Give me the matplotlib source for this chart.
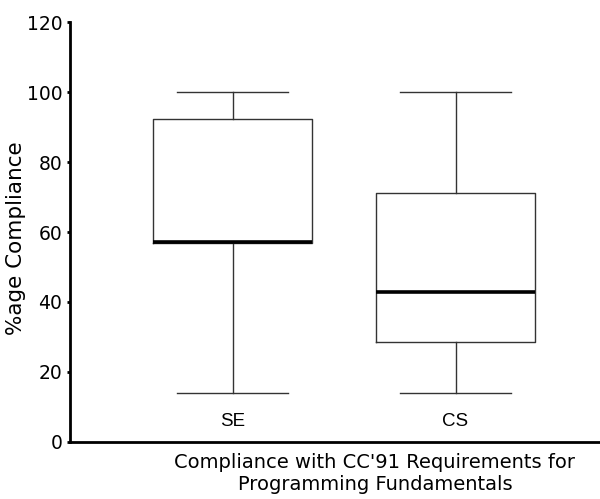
import matplotlib
matplotlib.use("Agg")
import matplotlib.pyplot as plt

categories = ["SE", "CS"]
whisker_low = [14, 14]
q1 = [57, 28.6]
median = [57.2, 42.8]
q3 = [92.4, 71.1]
whisker_high = [100, 100]

yticks = [0, 20, 40, 60, 80, 100, 120]
xlabel = "Compliance with CC'91 Requirements for\nProgramming Fundamentals"
ylabel = "%age Compliance"

plt.rcParams['font.family'] = ['DejaVu Sans']
fig = plt.figure(figsize=(6.0, 4.99), dpi=100)
ax = fig.add_axes([0.1167, 0.115, 0.8833, 0.84])

stats = []
for i, c in enumerate(categories):
    stats.append(dict(label=c, whislo=whisker_low[i], q1=q1[i], med=median[i],
                      q3=q3[i], whishi=whisker_high[i], fliers=[]))
positions = list(range(1, len(categories) + 1))
ax.bxp(stats, positions=positions, widths=0.717, capwidths=0.502, showfliers=False,
       boxprops=dict(color='#333333', linewidth=1.0),
       whiskerprops=dict(color='#333333', linewidth=1.0),
       capprops=dict(color='#333333', linewidth=1.0),
       medianprops=dict(color='black', linewidth=2.6, solid_capstyle='butt'))

ax.set_xlim(0.2713, 2.648)
ax.set_ylim(0, 120)
ax.set_yticks(yticks)
ax.set_yticklabels([str(t) for t in yticks], fontsize=13.5)
ax.tick_params(axis='y', length=2, width=2, pad=3.5)
ax.set_xticks([])
for p, c in zip(positions, categories):
    ax.text(p, 5.9, c, ha='center', va='center', fontsize=13.5, family='Liberation Sans')

for s in ['top', 'right']:
    ax.spines[s].set_visible(False)
for s in ['left', 'bottom']:
    ax.spines[s].set_linewidth(2)
    ax.spines[s].set_color('black')

fig.text(0.625, 0.0108, xlabel, ha='center', va='bottom', fontsize=14, linespacing=1.2)
fig.text(0.026, 0.523, ylabel, ha='center', va='center', rotation=90, fontsize=15.5)

fig.savefig("out.png", dpi=100)
